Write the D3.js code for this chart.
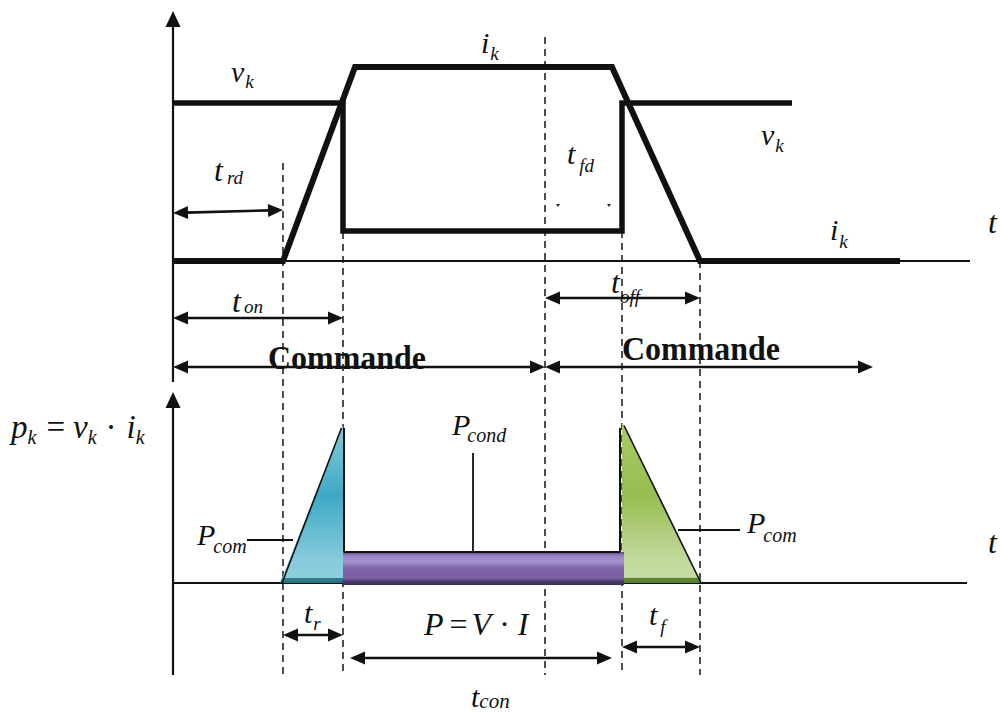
<!DOCTYPE html>
<html><head><meta charset="utf-8">
<script src="https://cdn.jsdelivr.net/npm/d3@7"></script>
<style>html,body{margin:0;padding:0;background:#fff;}svg{display:block;}
svg text{font-family:"Liberation Serif","Times New Roman","DejaVu Serif",serif;}</style>
</head><body>
<script>
// ---------------- data (time in arbitrary units, levels in arbitrary units) -------------
const vkTime  = [0, 1.70, 1.70, 4.49, 4.49, 6.19];
const vkLevel = [6.32, 6.32, 1.20, 1.20, 6.32, 6.32];
const ikTime  = [0, 1.10, 1.82, 4.39, 5.27, 7.27];
const ikLevel = [0, 0, 7.76, 7.76, 0, 0];
// instants marked with dashed verticals, and the top-panel level where each dash starts
const markTime  = [1.10, 1.70, 3.72, 4.49, 5.27];
const markStart = [3.92, 1.16, 8.96, 1.20, 0];
// power pulses
const turnOnTime  = [1.07, 1.70, 1.70];
const turnOnPow   = [0, 6.32, 0];
const turnOffTime = [4.49, 4.49, 5.29];
const turnOffPow  = [6.44, 0, 0];
const condTime = [1.70, 4.51];
const condPow  = 1.24;

const W = 1001, H = 713;
const x = d3.scaleLinear().domain([0, 8]).range([173, 973]);
const yTop = d3.scaleLinear().domain([0, 10]).range([261, 11]);
const yBot = d3.scaleLinear().domain([0, 10]).range([583, 333]);

const svg = d3.select("body").append("svg").attr("width", W).attr("height", H);
const defs = svg.append("defs");
function grad(id, stops){
  const g = defs.append("linearGradient").attr("id", id).attr("x1",0).attr("y1",0).attr("x2",0).attr("y2",1);
  stops.forEach(s => g.append("stop").attr("offset", s[0]).attr("stop-color", s[1]));
}
grad("gBlue", [[0,"#84cbdb"],[0.45,"#3ea9c5"],[0.85,"#86cadb"],[0.965,"#8fcfde"],[0.97,"#2f7d8e"],[1,"#2a6f7e"]]);
grad("gGreen",[[0,"#a9cb66"],[0.45,"#97bd4f"],[0.85,"#c2da9c"],[0.965,"#c6dca3"],[0.97,"#5e8a33"],[1,"#557d2e"]]);
grad("gPurple",[[0,"#5a4785"],[0.12,"#9a83c2"],[0.3,"#a793cc"],[0.5,"#7c62a6"],[0.8,"#7a5fa2"],[0.88,"#4b3a6e"],[1,"#3b2d58"]]);

// ---------------- dashed verticals ----------------
markTime.forEach((t,i) => {
  svg.append("line").attr("x1", x(t)).attr("x2", x(t))
    .attr("y1", yTop(markStart[i])).attr("y2", yBot(-3.68))
    .attr("stroke", "#222").attr("stroke-width", 1.6).attr("stroke-dasharray", "7,5");
});

// ---------------- axes ----------------
function vArrowAxis(xp, yTip, yEnd){
  svg.append("line").attr("x1", xp).attr("x2", xp).attr("y1", yTip+10).attr("y2", yEnd)
    .attr("stroke", "#111").attr("stroke-width", 2.2);
  svg.append("path").attr("d", `M${xp},${yTip} L${xp-7.5},${yTip+16} L${xp+7.5},${yTip+16} Z`).attr("fill", "#111");
}
vArrowAxis(x(0), yTop(10), 382);
vArrowAxis(x(0), yBot(7.64), yBot(-3.68));
svg.append("line").attr("x1", x(0)).attr("x2", x(7.97)).attr("y1", yTop(0)).attr("y2", yTop(0))
  .attr("stroke", "#111").attr("stroke-width", 2);
svg.append("line").attr("x1", x(0)).attr("x2", x(7.94)).attr("y1", yBot(0)).attr("y2", yBot(0))
  .attr("stroke", "#111").attr("stroke-width", 2);

// ---------------- waveforms ----------------
const lineTop = d3.line().x(d => x(d[0])).y(d => yTop(d[1]));
svg.append("path").attr("d", lineTop(d3.zip(vkTime, vkLevel)))
  .attr("fill", "none").attr("stroke", "#111").attr("stroke-width", 5.5).attr("stroke-linejoin", "miter");
svg.append("path").attr("d", lineTop(d3.zip(ikTime, ikLevel)))
  .attr("fill", "none").attr("stroke", "#111").attr("stroke-width", 6).attr("stroke-linejoin", "miter");

// ---------------- power ----------------
const lineBot = d3.line().x(d => x(d[0])).y(d => yBot(d[1]));
svg.append("path").attr("d", lineBot(d3.zip(turnOnTime, turnOnPow)) + "Z").attr("fill", "url(#gBlue)");
svg.append("path").attr("d", lineBot(d3.zip(turnOffTime, turnOffPow)) + "Z").attr("fill", "url(#gGreen)");
svg.append("rect").attr("x", x(condTime[0])).attr("width", x(condTime[1]) - x(condTime[0]))
  .attr("y", yBot(condPow)).attr("height", yBot(0) - yBot(condPow) + 2).attr("fill", "url(#gPurple)");
// outlines
svg.append("line").attr("x1", x(turnOnTime[0])+2).attr("y1", yBot(0)).attr("x2", x(1.685)).attr("y2", yBot(6.2))
  .attr("stroke", "#111").attr("stroke-width", 1.6);
svg.append("line").attr("x1", x(1.71)).attr("x2", x(1.71)).attr("y1", yBot(6.2)).attr("y2", yBot(condPow))
  .attr("stroke", "#111").attr("stroke-width", 2);
svg.append("line").attr("x1", x(1.71)).attr("x2", x(4.47)).attr("y1", yBot(condPow)).attr("y2", yBot(condPow))
  .attr("stroke", "#111").attr("stroke-width", 1.8);
svg.append("line").attr("x1", x(4.47)).attr("x2", x(4.47)).attr("y1", yBot(6.2)).attr("y2", yBot(condPow))
  .attr("stroke", "#111").attr("stroke-width", 2);
svg.append("line").attr("x1", x(4.51)).attr("y1", yBot(6.3)).attr("x2", x(turnOffTime[2])-1).attr("y2", yBot(0))
  .attr("stroke", "#111").attr("stroke-width", 1.6);
// leaders
svg.append("line").attr("x1", 247).attr("x2", 293).attr("y1", 540).attr("y2", 540).attr("stroke", "#111").attr("stroke-width", 1.8);
svg.append("line").attr("x1", 678).attr("x2", 740).attr("y1", 530).attr("y2", 530).attr("stroke", "#111").attr("stroke-width", 1.8);
svg.append("line").attr("x1", 473).attr("x2", 473).attr("y1", 453).attr("y2", yBot(condPow)).attr("stroke", "#111").attr("stroke-width", 1.8);

// ---------------- arrows ----------------
function arrow(x1, y1, x2, y2, heads = [true, true], w = 2.6){
  const a = Math.atan2(y2 - y1, x2 - x1), L = 15, hw = 6.5;
  const c = Math.cos(a), s = Math.sin(a);
  const sx1 = heads[0] ? x1 + c*(L-2) : x1, sy1 = heads[0] ? y1 + s*(L-2) : y1;
  const sx2 = heads[1] ? x2 - c*(L-2) : x2, sy2 = heads[1] ? y2 - s*(L-2) : y2;
  svg.append("line").attr("x1", sx1).attr("y1", sy1).attr("x2", sx2).attr("y2", sy2).attr("stroke", "#111").attr("stroke-width", w);
  const head = (px, py, dir) => {
    const bx = px - dir*c*L, by = py - dir*s*L;
    svg.append("path").attr("d", `M${px},${py} L${bx - s*hw},${by + c*hw} L${bx + s*hw},${by - c*hw} Z`).attr("fill", "#111");
  };
  if (heads[0]) head(x1, y1, -1);
  if (heads[1]) head(x2, y2, 1);
}
arrow(x(0), 213, x(1.10), 210);
arrow(x(0), 318, x(1.70), 318);
arrow(x(3.72), 298, x(5.27), 298);
arrow(x(0), 367, x(3.72), 367);
arrow(x(3.72), 367, x(7.00), 367);
arrow(x(1.10), 635, x(1.70), 635);
arrow(x(4.49), 647, x(5.27), 647);
arrow(350, 658, 612, 658);
// tiny remnants near t_fd
svg.append("path").attr("d","M556,204 L560,204 L558,207Z").attr("fill","#222");
svg.append("path").attr("d","M607,204 L611,204 L609,207Z").attr("fill","#222");

// ---------------- text ----------------
function math(xp, yp, main, sub, size = 30, subSize = 19, dy = 6, dx = 0){
  const t = svg.append("text").attr("x", xp).attr("y", yp)
    .style("font-style", "italic").attr("font-size", size).attr("fill", "#111");
  t.append("tspan").text(main);
  if (sub) t.append("tspan").attr("dx", dx).attr("dy", dy).attr("font-size", subSize).text(sub);
  return t;
}
math(231, 82, "v", "k", 30, 19, 6, 1);
math(481, 53, "i", "k", 30, 19, 7, 1);
math(214, 181, "t", "rd", 32, 19, 3, 4);
math(567, 164, "t", "fd", 30, 19, 8, 4);
math(761, 145, "v", "k", 30, 19, 7, 1);
math(830, 240, "i", "k", 30, 19, 8, 1);
math(988, 233, "t", null, 32);
math(232, 312, "t", "on", 32, 19, 1, 3);
math(611, 293, "t", "off", 32, 19, 10, 0);
math(988, 553, "t", null, 32);
math(197, 545, "P", "com", 30, 20, 8, -2);
math(747, 533, "P", "com", 30, 20, 9, -2);
math(452, 435, "P", "cond", 30, 20, 7, -3);
math(304, 623, "t", "r", 30, 19, 7, 1);
math(649, 625, "t", "f", 30, 19, 8, 3);
math(471, 707, "t", "con", 30, 21, 1, 0);

// p_k = v_k · i_k
(function(){
  const t = svg.append("text").attr("x", 11).attr("y", 438).attr("font-size", 33).attr("fill", "#111");
  t.append("tspan").style("font-style","italic").text("p");
  t.append("tspan").style("font-style","italic").attr("font-size",20).attr("dy",6).text("k");
  t.append("tspan").attr("dy",-6).attr("dx",10).text("=");
  t.append("tspan").style("font-style","italic").attr("dx",8).text("v");
  t.append("tspan").style("font-style","italic").attr("font-size",20).attr("dy",6).text("k");
  t.append("tspan").attr("dy",-6).attr("dx",9).text("·");
  t.append("tspan").style("font-style","italic").attr("dx",10).text("i");
  t.append("tspan").style("font-style","italic").attr("font-size",20).attr("dy",6).text("k");
})();
// P = V · I
(function(){
  const t = svg.append("text").attr("x", 424).attr("y", 635).attr("font-size", 32).attr("fill", "#111");
  t.append("tspan").style("font-style","italic").text("P");
  t.append("tspan").attr("dx",6).text("=");
  t.append("tspan").style("font-style","italic").attr("dx",4).text("V");
  t.append("tspan").attr("dx",8).text("·");
  t.append("tspan").style("font-style","italic").attr("dx",8).text("I");
})();
// Commande
svg.append("text").attr("x", 268).attr("y", 369).style("font-weight", "bold")
  .attr("font-size", 34).attr("textLength", 158).attr("lengthAdjust", "spacingAndGlyphs").attr("fill", "#111").text("Commande");
svg.append("text").attr("x", 622).attr("y", 360).style("font-weight", "bold")
  .attr("font-size", 34).attr("textLength", 158).attr("lengthAdjust", "spacingAndGlyphs").attr("fill", "#111").text("Commande");
</script>
</body></html>
